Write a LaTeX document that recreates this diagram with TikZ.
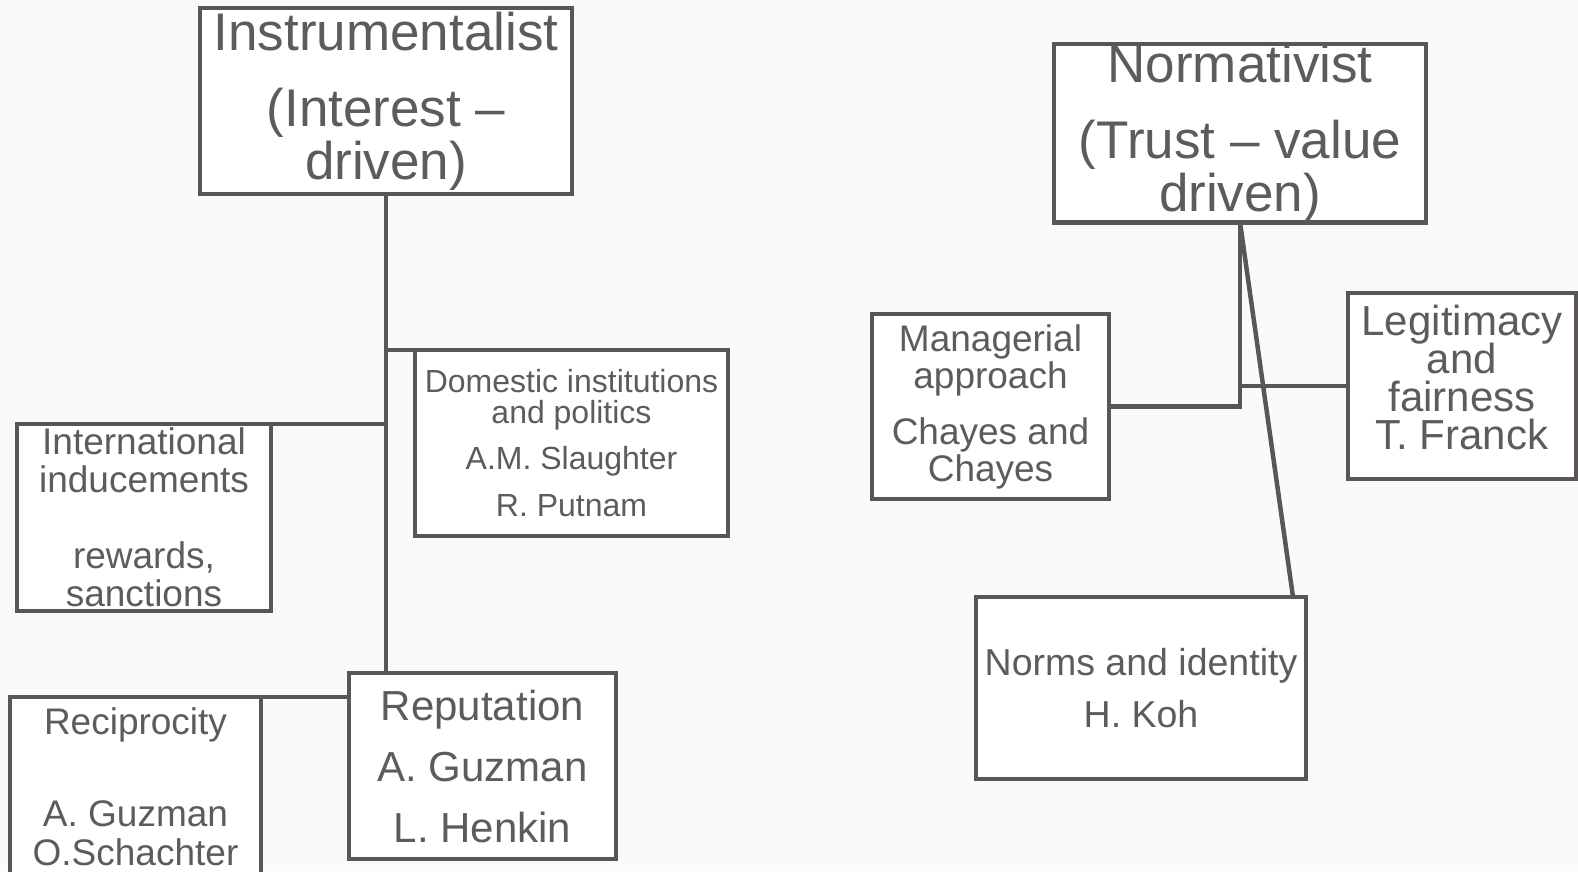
\documentclass[tikz,border=0pt]{standalone}
\usepackage{fontspec}
\setmainfont{Liberation Sans}
\usepackage{tikz}
\usetikzlibrary{positioning,calc}
\definecolor{linegray}{RGB}{90,86,86}
\definecolor{textgray}{RGB}{92,92,92}
\definecolor{paper}{RGB}{250,250,250}
\newcommand{\boxtext}[2]{\fontsize{#1}{#2}\selectfont\lineskiplimit=-100pt}

\begin{document}
\begin{tikzpicture}[x=1pt,y=-1pt,
	box/.style={draw=linegray,line width=4.5pt,fill=white,text=textgray,inner sep=0pt,outer sep=0pt,align=center,anchor=north west},
	link/.style={draw=linegray,line width=4.5pt}]
\clip (0,0) rectangle (1578,871);
\fill[paper] (0,0) rectangle (1578,871);
\node[box,minimum width=372pt,minimum height=186pt,font=\boxtext{53}{53}] (instr) at (200,8) {Instrumentalist\\[23pt](Interest –\\driven)};
\node[box,minimum width=313pt,minimum height=186pt,font=\boxtext{32}{31}] (dom) at (415,350) {Domestic institutions\\and politics\\[15pt]A.M. Slaughter\\[16pt]R. Putnam};
\node[box,minimum width=254pt,minimum height=187pt,font=\boxtext{37}{38}] (intl) at (17,424) {International\\inducements\\[38pt]rewards,\\sanctions};
\node[box,minimum width=267pt,minimum height=186pt,font=\boxtext{42}{61}] (rep) at (349,673) {Reputation\\A. Guzman\\L. Henkin};
\node[box,minimum width=251pt,minimum height=180pt,font=\boxtext{37}{39}] (recip) at (10,697) {Reciprocity\\[53pt]A. Guzman\\O.Schachter};
\draw[link] (instr.south) |- (dom.north);
\draw[link] (instr.south) |- (intl.north);
\draw[link] (instr.south) |- (rep.north);
\draw[link] (rep.west |- recip.north) -- (recip.north);
	\node[box,minimum width=372pt,minimum height=178pt,font=\boxtext{53}{53}] (norm) at (1054,44) {Normativist\\[23pt](Trust – value\\driven)};
	\node[box,minimum width=237pt,minimum height=185pt,font=\boxtext{37}{37}] (mgr) at (872,314) {Managerial\\approach\\[19pt]Chayes and\\Chayes};
	\node[box,minimum width=228pt,minimum height=186pt,font=\boxtext{42}{38},text depth=17pt] (leg) at (1348,293) {Legitimacy\\and\\fairness\\T. Franck};
	\node[box,minimum width=330pt,minimum height=182pt,font=\boxtext{37.5}{52}] (norms) at (976,597) {Norms and identity\\H. Koh};
	\draw[link] (norm.south) |- (mgr.east);
	\draw[link] (norm.south |- leg.west) -- (leg.west);
	\draw[link] (norm.south) -- ([xshift=-13pt]norms.north east);
\end{tikzpicture}
\end{document}
